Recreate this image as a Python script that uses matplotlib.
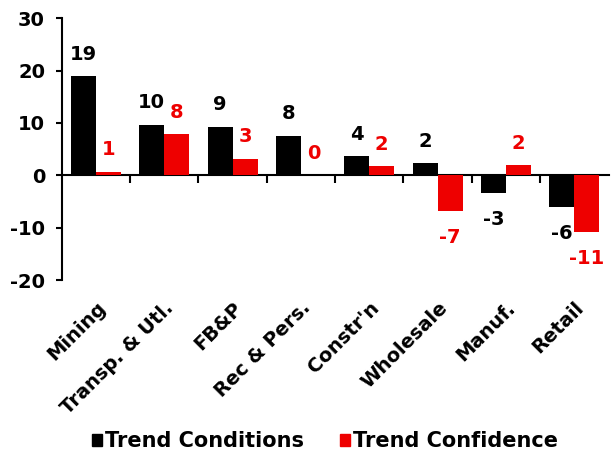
#!/usr/bin/env python3
"""Trend conditions vs trend confidence by sector."""

import matplotlib

matplotlib.use("Agg")
import matplotlib.pyplot as plt
from matplotlib.patches import Patch
import numpy as np

plt.rcParams["font.family"] = ["DejaVu Sans"]
plt.rcParams["font.weight"] = "bold"
plt.rcParams["axes.unicode_minus"] = False

SECTORS = ["Mining", "Transp. & Utl.", "FB&P", "Rec & Pers.", "Constr'n",
           "Wholesale", "Manuf.", "Retail"]
CONDITIONS = [18.9, 9.6, 9.2, 7.6, 3.6, 2.3, -3.3, -6.1]
CONFIDENCE = [0.6, 7.8, 3.1, 0.0, 1.7, -6.9, 1.9, -10.9]
SERIES_LABELS = ["Trend Conditions", "Trend Confidence"]
COLORS = ["#000000", "#EE0000"]
Y_TICKS = [-20, -10, 0, 10, 20, 30]

fig = plt.figure(figsize=(6.11, 4.54), dpi=100)
ax = fig.add_axes([0.101, 0.383, 0.895, 0.577])

x = np.arange(len(SECTORS))
width = 0.365
series = [CONDITIONS, CONFIDENCE]
for i, (values, color) in enumerate(zip(series, COLORS)):
    pos = x - width / 2 + i * width
    ax.bar(pos, values, width=width, color=color, linewidth=0, zorder=2)
    for xp, v in zip(pos, values):
        off = 16 if v >= 0 else -19
        ax.annotate(f"{v:.0f}", (xp, v), xytext=(0, off),
                    textcoords="offset points", ha="center", va="center",
                    color=color, fontsize=14, fontweight="bold")

ax.set_xlim(-0.5, len(SECTORS) - 0.5)
ax.set_ylim(-20, 30)
ax.set_yticks(Y_TICKS)
ax.tick_params(axis="y", labelsize=14, length=4, width=1.5, pad=8,
               direction="out")

ax.set_xticks(x)
ax.set_xticklabels(SECTORS, rotation=45, ha="right", rotation_mode="anchor",
                   fontsize=14, fontweight="bold")
ax.tick_params(axis="x", length=0, pad=13)

for side in ["top", "right", "bottom"]:
    ax.spines[side].set_visible(False)
ax.spines["left"].set_linewidth(1.5)

# zero line with category separators
sec = ax.secondary_xaxis(0, transform=ax.transData)
sec.set_xticks(np.arange(0.5, len(SECTORS) - 0.5, 1.0))
sec.set_xticklabels([])
sec.tick_params(axis="x", length=6, width=1.5, direction="out")
sec.spines["bottom"].set_linewidth(1.5)

handles = [Patch(facecolor=c, edgecolor=c) for c in COLORS]
fig.legend(handles, SERIES_LABELS, loc="center", bbox_to_anchor=(0.532, 0.028),
           ncol=2, frameon=False, fontsize=15, handlelength=0.5,
           handleheight=0.5, handletextpad=0.15, columnspacing=1.7)

fig.savefig("out.png", dpi=100)
